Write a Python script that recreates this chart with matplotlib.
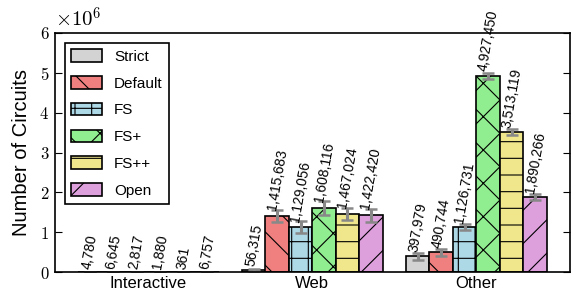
import matplotlib
matplotlib.use("Agg")
import matplotlib.pyplot as plt
import numpy as np

plt.rcParams['font.family'] = ['Liberation Sans', 'DejaVu Sans']
plt.rcParams['mathtext.fontset'] = 'cm'
plt.rcParams['hatch.linewidth'] = 0.8

categories = ["Interactive", "Web", "Other"]
series = ["Strict", "Default", "FS", "FS+", "FS++", "Open"]
values = {
    "Strict":  [4780, 56315, 397979],
    "Default": [6645, 1415683, 490744],
    "FS":      [2817, 1129056, 1126731],
    "FS+":     [1880, 1608116, 4927450],
    "FS++":    [361, 1467024, 3513119],
    "Open":    [6757, 1422420, 1890266],
}
errors = {
    "Strict":  [0, 30000, 90000],
    "Default": [0, 150000, 80000],
    "FS":      [0, 140000, 70000],
    "FS+":     [0, 170000, 80000],
    "FS++":    [0, 150000, 70000],
    "Open":    [0, 160000, 70000],
}
colors = ["#d3d3d3", "#f08080", "#add8e6", "#90ee90", "#f0e68c", "#dda0dd"]
hatches = ["", "\\", "+", "x", "-", "/"]
yticks = [0, 1e6, 2e6, 3e6, 4e6, 5e6, 6e6]
ytick_labels = ["$0$", "$1$", "$2$", "$3$", "$4$", "$5$", "$6$"]

fig = plt.figure(figsize=(5.71, 2.97), dpi=100)
ax = fig.add_axes([0.096, 0.084, 0.902, 0.805])

w = 1 / 7
x = np.arange(len(categories))
for i, s in enumerate(series):
    pos = x + (i - 2.5) * w
    ax.bar(pos, values[s], w, color=colors[i], edgecolor="black",
           linewidth=1.2, hatch=hatches[i], label=s,
           yerr=errors[s], error_kw=dict(ecolor="#888888", elinewidth=2.2,
                                          capsize=4, capthick=1.8))
    for p, v, e in zip(pos, values[s], errors[s]):
        ax.text(p, v + 0.5 * e + 40000, f"{v:,}", rotation=80, ha="center",
                va="bottom", fontsize=10)

ax.set_xlim(-0.57, 2.57)
ax.set_ylim(0, 6e6)
ax.set_xticks(x)
ax.set_xticklabels(categories, fontsize=12)
ax.tick_params(axis="x", length=0, pad=3)
ax.set_yticks(yticks)
ax.set_yticklabels(ytick_labels, fontsize=12)
ax.tick_params(axis="y", direction="in", right=True, length=5, pad=4)
ax.set_ylabel("Number of Circuits", fontsize=14.5, labelpad=6)
ax.text(0.0, 1.01, r"$\times10^{6}$", transform=ax.transAxes, fontsize=15,
        ha="left", va="bottom")
for sp in ax.spines.values():
    sp.set_linewidth(1.2)

leg = ax.legend(loc="upper left", fontsize=11, fancybox=False, framealpha=1,
                edgecolor="black", handlelength=2.0, handleheight=0.9,
                labelspacing=0.8, borderpad=0.4, bbox_to_anchor=(0.005, 0.99))
leg.get_frame().set_linewidth(1.2)

fig.savefig("out.png", dpi=100)
